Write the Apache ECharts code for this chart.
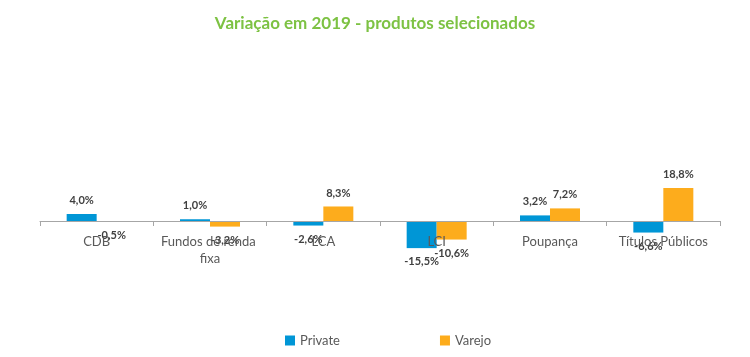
<!DOCTYPE html>
<html><head><meta charset="utf-8">
<script src="https://cdn.jsdelivr.net/npm/echarts@6/dist/echarts.min.js"></script>
<style>html,body{margin:0;padding:0;background:#fff}#c{width:750px;height:357px}</style>
</head><body><div id="c"></div>
<script>
const categories = ["CDB", "Fundos de renda fixa", "LCA", "LCI", "Poupança", "Títulos Públicos"];
const privateValues = [4.0, 1.0, -2.6, -15.5, 3.2, -6.6];
const varejoValues = [-0.5, -3.2, 8.3, -10.6, 7.2, 18.8];
const seriesNames = ["Private", "Varejo"];
const titleText = "Variação em 2019 - produtos selecionados";

const fmt = v => v.toFixed(1).replace('.', ',') + '%';
const toItems = arr => arr.map(v => ({ value: v, label: { position: v < 0 ? 'bottom' : 'top' } }));
const FONT = 'Lato, "Open Sans", sans-serif';

const chart = echarts.init(document.getElementById('c'), null, { renderer: 'canvas' });
chart.setOption({
  animation: false,
  title: {
    text: titleText, left: 'center', top: 10,
    textStyle: { color: '#7DC243', fontSize: 17, fontWeight: 'bold', fontFamily: FONT }
  },
  legend: {
    bottom: 5, left: 280, itemWidth: 10, itemHeight: 10, itemGap: 100,
    icon: 'rect',
    textStyle: { color: '#595959', fontSize: 13, fontFamily: FONT }
  },
  grid: { left: 40, right: 30, top: 133.5, height: 157.5, containLabel: false },
  xAxis: {
    type: 'category', data: categories, position: 'bottom', offset: -70, z: 5,
    axisLine: { onZero: false, lineStyle: { color: '#A6A6A6', width: 1 } },
    axisTick: { show: true, length: 5, lineStyle: { color: '#A6A6A6' } },
    axisLabel: { color: '#595959', fontSize: 13, fontFamily: FONT, margin: 12, width: 110, overflow: 'break', interval: 0, lineHeight: 17 }
  },
  yAxis: { type: 'value', min: -40, max: 50, show: false, splitLine: { show: false } },
  series: [
    {
      name: seriesNames[0], type: 'bar', data: toItems(privateValues), barWidth: 30, barGap: '0%',
      itemStyle: { color: '#0096D6' },
      label: { show: true, formatter: p => fmt(p.value), color: '#404040', fontSize: 11, fontWeight: 'bold', fontFamily: FONT, distance: 8 }
    },
    {
      name: seriesNames[1], type: 'bar', data: toItems(varejoValues), barWidth: 30, barGap: '0%',
      itemStyle: { color: '#FDAC1C' },
      label: { show: true, formatter: p => fmt(p.value), color: '#404040', fontSize: 11, fontWeight: 'bold', fontFamily: FONT, distance: 8 }
    }
  ]
});
</script></body></html>
